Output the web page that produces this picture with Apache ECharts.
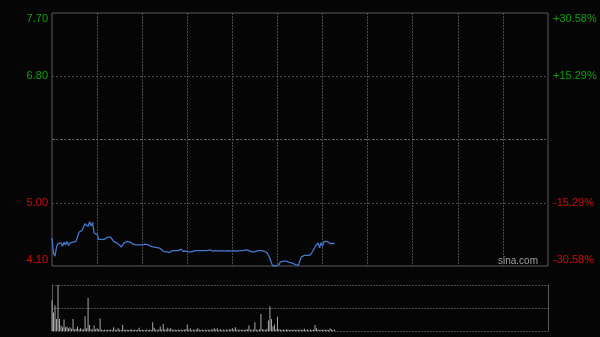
<!DOCTYPE html>
<html>
<head>
<meta charset="utf-8">
<title>分时图</title>
<style>
    html, body { margin: 0; padding: 0; background: #050505; }
    #chart { width: 600px; height: 337px; }
</style>
</head>
<body>
<div id="chart"></div>
<script src="https://cdn.jsdelivr.net/npm/echarts@6/dist/echarts.min.js"></script>
<script>
// trading session: 330 minutes, 30-min grid
var sessionMinutes = 330
var prevClose = 5.90

// per-minute price (first 189 minutes of the session)
var prices = [
    4.50, 4.28, 4.24, 4.37, 4.42, 4.40, 4.43, 4.38, 4.44, 4.40,
    4.45, 4.39, 4.43, 4.41, 4.44, 4.42, 4.45, 4.52, 4.58, 4.60,
    4.61, 4.62, 4.70, 4.72, 4.66, 4.73, 4.67, 4.72, 4.57, 4.56,
    4.55, 4.48, 4.48, 4.48, 4.48, 4.48, 4.49, 4.51, 4.51, 4.51,
    4.50, 4.45, 4.44, 4.43, 4.42, 4.40, 4.37, 4.40, 4.43, 4.44,
    4.45, 4.45, 4.44, 4.42, 4.41, 4.40, 4.40, 4.40, 4.40, 4.40,
    4.40, 4.40, 4.41, 4.40, 4.40, 4.40, 4.38, 4.37, 4.37, 4.36,
    4.36, 4.35, 4.35, 4.33, 4.31, 4.30, 4.30, 4.29, 4.29, 4.30,
    4.32, 4.33, 4.32, 4.33, 4.32, 4.33, 4.34, 4.31, 4.30, 4.31,
    4.31, 4.30, 4.29, 4.30, 4.31, 4.32, 4.32, 4.32, 4.32, 4.32,
    4.32, 4.32, 4.33, 4.32, 4.32, 4.33, 4.33, 4.31, 4.32, 4.32,
    4.32, 4.31, 4.32, 4.32, 4.32, 4.31, 4.32, 4.32, 4.31, 4.31,
    4.31, 4.32, 4.32, 4.31, 4.32, 4.32, 4.32, 4.32, 4.33, 4.33,
    4.32, 4.32, 4.31, 4.30, 4.29, 4.30, 4.31, 4.32, 4.32, 4.32,
    4.31, 4.31, 4.30, 4.29, 4.25, 4.21, 4.14, 4.10, 4.10, 4.10,
    4.10, 4.12, 4.16, 4.17, 4.17, 4.17, 4.17, 4.16, 4.15, 4.14,
    4.14, 4.13, 4.12, 4.10, 4.11, 4.18, 4.23, 4.24, 4.25, 4.25,
    4.25, 4.25, 4.26, 4.28, 4.33, 4.37, 4.40, 4.43, 4.36, 4.43,
    4.38, 4.45, 4.45, 4.45, 4.44, 4.42, 4.42, 4.42, 4.42
]

// per-minute volume (relative units, 100 = panel top)
var volumes = [
    67, 40, 56, 26, 100, 26, 12, 8, 25, 8,
    10, 6, 8, 5, 26, 4, 5, 10, 4, 6,
    3, 4, 32, 6, 72, 13, 4, 3, 12, 4,
    6, 4, 27, 3, 2, 3, 2, 3, 2, 3,
    2, 8, 3, 2, 6, 3, 2, 13, 3, 2,
    3, 2, 3, 4, 2, 3, 2, 3, 7, 2,
    3, 2, 2, 3, 2, 3, 2, 19, 7, 3,
    2, 3, 10, 3, 15, 4, 3, 7, 4, 6,
    3, 2, 3, 2, 3, 2, 3, 2, 3, 4,
    14, 3, 6, 2, 3, 2, 3, 6, 3, 2,
    3, 2, 3, 2, 3, 2, 3, 4, 6, 3,
    6, 2, 4, 2, 3, 2, 3, 2, 4, 3,
    6, 3, 8, 3, 2, 3, 2, 3, 2, 3,
    4, 12, 3, 2, 3, 19, 3, 2, 4, 37,
    4, 3, 2, 5, 23, 54, 26, 10, 14, 4,
    31, 4, 3, 2, 3, 2, 4, 3, 2, 3,
    2, 3, 2, 3, 2, 3, 2, 3, 5, 2,
    3, 2, 3, 2, 3, 13, 6, 3, 2, 3,
    2, 3, 2, 3, 2, 6, 3, 2, 3
]

// axis tick labels, bottom to top
var priceLabels = ['4.10', '5.00', '', '6.80', '7.70']
var pctLabels = ['-30.58%', '-15.29%', '', '+15.29%', '+30.58%']

var priceData = prices.map(function (p, i) { return [i, p] })
var volumeData = volumes.map(function (v, i) { return [i, v] })

var gridLine = '#4a4a4a'
var green = '#0fa00f'
var red = '#d10b0b'

var labelRich = {
    gt: { color: green, padding: [12, 0, 0, 0], fontSize: 11, fontFamily: 'Liberation Sans' },
    g: { color: green, fontSize: 11, fontFamily: 'Liberation Sans' },
    r: { color: red, fontSize: 11, fontFamily: 'Liberation Sans' },
    rb: { color: red, padding: [0, 0, 12, 0], fontSize: 11, fontFamily: 'Liberation Sans' }
}
function styledLabel(labels) {
    return function (value, index) {
        var t = labels[index]
        if (!t) return ''
        if (index === 4) return '{gt|' + t + '}'
        if (index === 3) return '{g|' + t + '}'
        if (index === 0) return '{rb|' + t + '}'
        return '{r|' + t + '}'
    }
}

var chart = echarts.init(document.getElementById('chart'))
var option = {
    backgroundColor: '#050505',
    animation: false,
    grid: [
        { left: 52, right: 52, top: 13, height: 253, show: true, borderColor: '#5a5a5a', borderWidth: 1, backgroundColor: 'transparent' },
        { left: 52, right: 52, top: 285, height: 46 }
    ],
    xAxis: [
        {
            type: 'value', gridIndex: 0, min: 0, max: sessionMinutes, interval: 30,
            axisLine: { show: false }, axisTick: { show: false }, axisLabel: { show: false },
            splitLine: { show: true, showMinLine: false, showMaxLine: false, lineStyle: { color: gridLine, type: [2, 1] } }
        },
        {
            type: 'value', gridIndex: 1, min: 0, max: sessionMinutes,
            axisLine: { show: false }, axisTick: { show: false }, axisLabel: { show: false },
            splitLine: { show: false }
        }
    ],
    yAxis: [
        {
            type: 'value', gridIndex: 0, position: 'left', min: 4.10, max: 7.70, interval: 0.9,
            axisLine: { show: false }, axisTick: { show: false },
            axisLabel: { margin: 4, formatter: styledLabel(priceLabels), rich: labelRich },
            splitLine: { show: true, showMinLine: false, showMaxLine: false, lineStyle: { color: gridLine, type: [2, 2] } }
        },
        {
            type: 'value', gridIndex: 0, position: 'right', min: 4.10, max: 7.70, interval: 0.9,
            axisLine: { show: false }, axisTick: { show: false },
            axisLabel: { margin: 5, formatter: styledLabel(pctLabels), rich: labelRich },
            splitLine: { show: false }
        },
        {
            type: 'value', gridIndex: 1, position: 'left', min: 0, max: 100, interval: 50,
            axisLine: { show: true, lineStyle: { color: '#5a5a5a' } }, axisTick: { show: false }, axisLabel: { show: false },
            splitLine: { show: true, lineStyle: { color: gridLine, type: [2, 1] } }
        },
        {
            type: 'value', gridIndex: 1, position: 'right', min: 0, max: 100, interval: 50,
            axisLine: { show: true, lineStyle: { color: '#5a5a5a' } }, axisTick: { show: false }, axisLabel: { show: false },
            splitLine: { show: false }
        }
    ],
    series: [
        {
            type: 'line', xAxisIndex: 0, yAxisIndex: 0, data: priceData,
            showSymbol: false, lineStyle: { color: '#4577cc', width: 1.3 },
            markLine: {
                silent: true, symbol: 'none', label: { show: false },
                lineStyle: { color: '#6a6a6a', type: [3, 2, 1, 2], width: 1 },
                data: [{ yAxis: prevClose }]
            }
        },
        {
            type: 'bar', xAxisIndex: 1, yAxisIndex: 2, data: volumeData,
            barWidth: 1, itemStyle: { color: '#a8a8a8' }
        }
    ],
    graphic: [
        { type: 'text', left: 498, top: 256, style: { text: 'sina.com', fill: '#a0a0a0', font: '10px "Liberation Sans"' } }
    ]
}
chart.setOption(option)
</script>
</body>
</html>
